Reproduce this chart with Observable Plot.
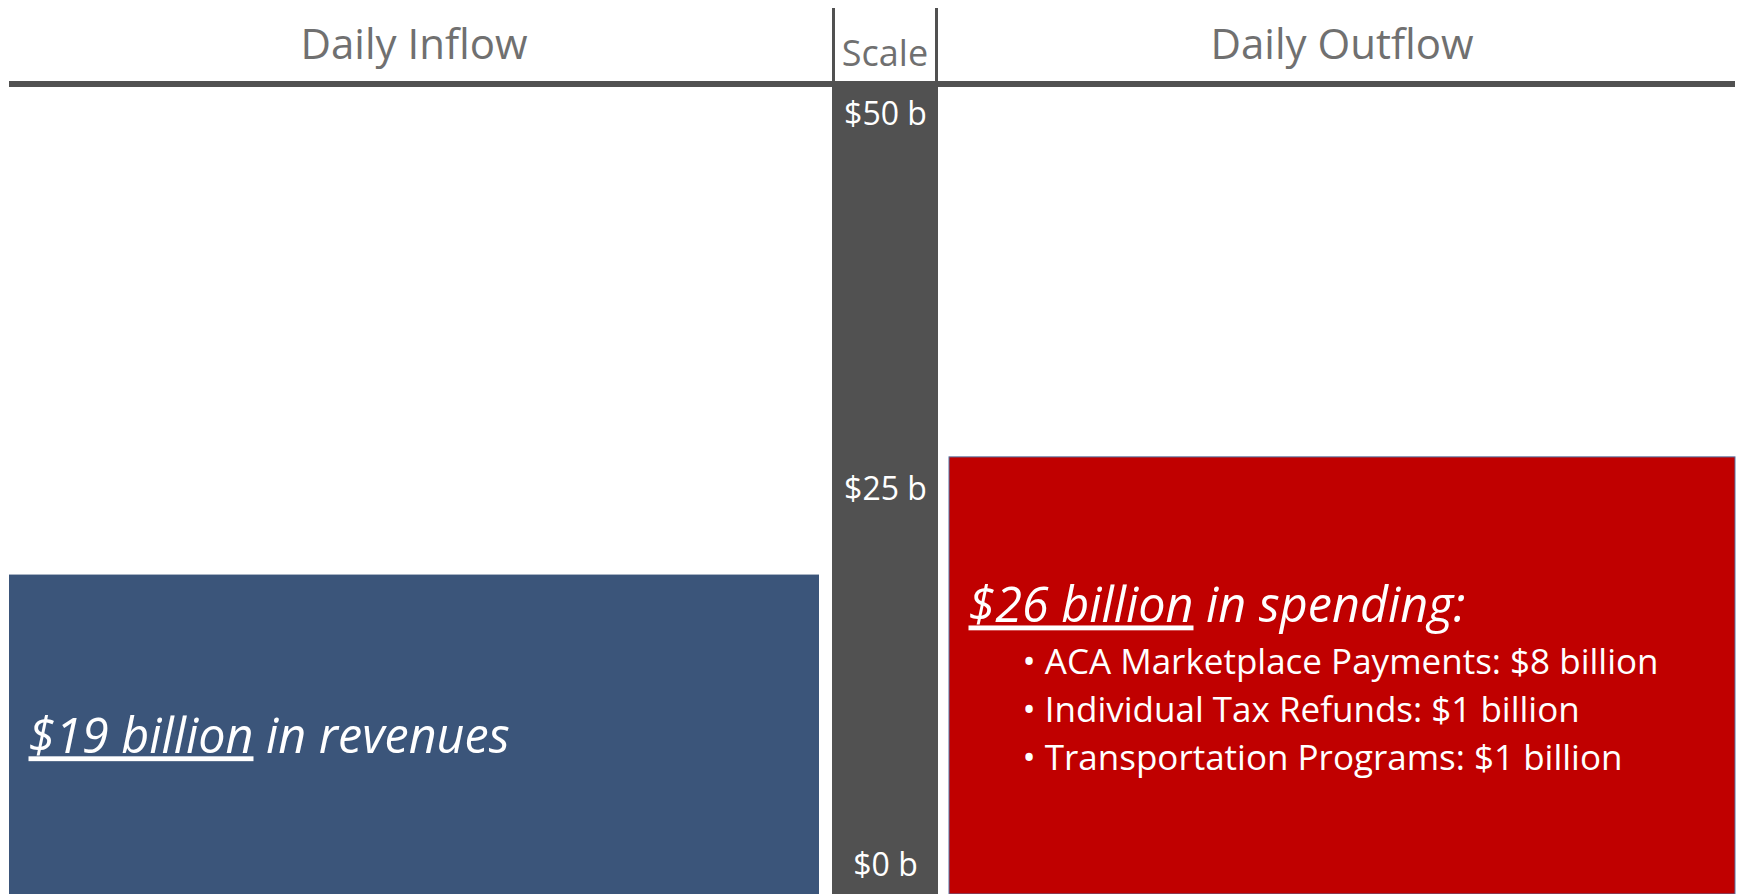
<!DOCTYPE html>
<html><head><meta charset="utf-8">
<script src="https://cdn.jsdelivr.net/npm/d3@7"></script>
<script src="https://cdn.jsdelivr.net/npm/@observablehq/plot@0.6"></script>
<style>
html,body{margin:0;padding:0;background:#fff;}
#chart{position:relative;width:1741px;height:894px;overflow:hidden;font-family:"Open Sans",sans-serif;}
#header{position:absolute;left:0;top:0;}
#row{position:absolute;left:0;top:87px;display:flex;}
#row svg{display:block;}
</style></head><body>
<div id="chart"><svg id="header" width="1741" height="87"></svg><div id="row"></div></div>
<script>
// ---- data ----
const panels = ["Daily Inflow", "Scale", "Daily Outflow"];
const inflow = [19];           // $ billion per day
const outflow = [26];          // $ billion per day
const scaleTicks = [0, 25, 50];
const inflowText = "in revenues";
const outflowText = "in spending:";
const outflowItems = ["ACA Marketplace Payments", "Individual Tax Refunds", "Transportation Programs"];
const outflowItemValues = [8, 1, 1];

// ---- styles ----
const GRAY = "#515151", HEAD = "#707070", BLUE = "#3b557a", RED = "#c00000";
const FONT = "'Open Sans', sans-serif";
const H = 807;
const widths = [832, 106, 803];

// ---- header ----
const hdr = d3.select("#header");
hdr.append("rect").attr("x", 9).attr("y", 81).attr("width", 1726).attr("height", 6).attr("fill", GRAY);
hdr.append("rect").attr("x", widths[0]).attr("y", 8).attr("width", 3).attr("height", 76).attr("fill", GRAY);
hdr.append("rect").attr("x", widths[0] + widths[1] - 3).attr("y", 8).attr("width", 3).attr("height", 76).attr("fill", GRAY);
const heads = [
  {t: panels[0], x: (9 + 819) / 2, y: 59, s: 42},
  {t: panels[1], x: widths[0] + widths[1] / 2, y: 66, s: 36},
  {t: panels[2], x: (949 + 1735) / 2, y: 59, s: 42}
];
hdr.selectAll("text.h").data(heads).join("text")
  .attr("x", d => d.x).attr("y", d => d.y).attr("text-anchor", "middle")
  .attr("font-family", FONT).attr("font-size", d => d.s).attr("fill", HEAD).text(d => d.t);

// ---- panels ----
const inRows = inflow.map(v => ({panel: panels[0], value: v, head: `$${v} billion`}));
const outRows = outflow.map(v => ({panel: panels[2], value: v, head: `$${v} billion`}));

const pIn = Plot.plot({
  width: widths[0], height: H, marginLeft: 9, marginRight: 0, marginTop: 0, marginBottom: 0,
  style: {fontFamily: FONT, background: "transparent"},
  x: {type: "band", domain: [panels[0]], padding: 0, insetRight: 13, axis: null},
  y: {domain: [0, 48], axis: null},
  marks: [
    Plot.barY(inRows, {x: "panel", y: "value", fill: BLUE}),
    Plot.text(inRows, {y: d => d.value / 2, text: d => `${d.head} ${inflowText}`,
      frameAnchor: "left", textAnchor: "start", dx: 19, dy: 3,
      fill: "white", fontSize: 48.5, fontStyle: "italic"})
  ]
});

const pScale = Plot.plot({
  width: widths[1], height: H, marginLeft: 0, marginRight: 0, marginTop: 0, marginBottom: 0,
  style: {fontFamily: FONT, background: "transparent"},
  y: {domain: [0, 50], insetTop: 27, insetBottom: 29, axis: null},
  marks: [
    Plot.frame({fill: GRAY, stroke: GRAY}),
    Plot.text(scaleTicks, {y: d => d, text: d => `$${d} b`, frameAnchor: "middle",
      fill: "white", fontSize: 32})
  ]
});

const pOut = Plot.plot({
  width: widths[2], height: H, marginLeft: 0, marginRight: 6, marginTop: 0, marginBottom: 0,
  style: {fontFamily: FONT, background: "transparent"},
  x: {type: "band", domain: [panels[2]], padding: 0, insetLeft: 11, axis: null},
  y: {domain: [0, 48], axis: null},
  marks: [
    Plot.barY(outRows, {x: "panel", y: "value", fill: RED, stroke: "#5473a3", strokeWidth: 1}),
    Plot.text(outRows, {y: d => d.value / 2, text: d => `${d.head} ${outflowText}`,
      frameAnchor: "left", textAnchor: "start", dx: 30, dy: -69,
      fill: "white", fontSize: 48.5, fontStyle: "italic"}),
    Plot.text(outRows, {y: d => d.value / 2,
      text: () => outflowItems.map((n, i) => `• ${n}: $${outflowItemValues[i]} billion`).join("\n"),
      frameAnchor: "left", textAnchor: "start", dx: 84, dy: 31, lineHeight: 48 / 35,
      fill: "white", fontSize: 35})
  ]
});

const row = document.getElementById("row");
[pIn, pScale, pOut].forEach(p => row.appendChild(p));

// underline the amount part of the headline texts
[...inRows, ...outRows].forEach(r => {
  d3.selectAll("#row text").each(function () {
    if (this.querySelector("tspan")) return;
    const t = this.textContent;
    if (t.startsWith(r.head)) {
      this.textContent = "";
      d3.select(this).append("tspan").style("text-decoration", "underline").text(r.head);
      d3.select(this).append("tspan").text(t.slice(r.head.length));
    }
  });
});
</script>
</body></html>
